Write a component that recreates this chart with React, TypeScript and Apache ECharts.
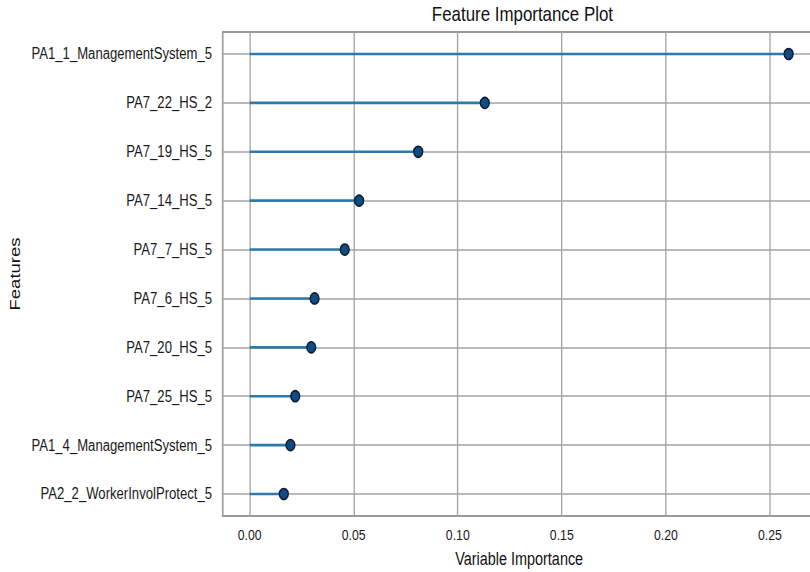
import React, { useEffect, useRef } from "react";
import * as echarts from "echarts";

// Features, top to bottom, with their importance scores
const features = [
  "PA1_1_ManagementSystem_5",
  "PA7_22_HS_2",
  "PA7_19_HS_5",
  "PA7_14_HS_5",
  "PA7_7_HS_5",
  "PA7_6_HS_5",
  "PA7_20_HS_5",
  "PA7_25_HS_5",
  "PA1_4_ManagementSystem_5",
  "PA2_2_WorkerInvolProtect_5",
];
const importance = [0.259, 0.113, 0.081, 0.0526, 0.0457, 0.0312, 0.0296, 0.0219, 0.0196, 0.0164];
const xTicks = [0, 0.05, 0.1, 0.15, 0.2, 0.25];

const FONT = "'Liberation Sans', Arial, Helvetica, sans-serif";
const SQUEEZE = 0.82; // the figure is drawn horizontally condensed
const VIEW_W = 810;
const VIEW_H = 572;
// the plot frame runs past the right edge of the view, so the canvas is wider
const CHART_W = 1010;

const GRID_LEFT = 271.6;
const GRID_TOP = 32;
const GRID_W = 723;
const GRID_H = 484;

const STEM = "#2f7aa8";
const DOT = "#0f4c81";
const DOT_EDGE = "#0b1c30";
const GRIDLINE = "#a3a3a3";
const FRAME = "#9a9a9a";

export default function App() {
  const ref = useRef<HTMLDivElement>(null);

  useEffect(() => {
    if (!ref.current) return;
    const chart = echarts.init(ref.current, undefined, { renderer: "svg" });

    const maxVal = Math.max(...importance);
    const pad = 0.05 * maxVal;
    const points = importance.map((v, i) => [v, i]);

    chart.setOption({
      animation: false,
      backgroundColor: "#ffffff",
      textStyle: { fontFamily: FONT },
      grid: {
        left: GRID_LEFT,
        top: GRID_TOP,
        width: GRID_W,
        height: GRID_H,
        show: true,
        borderColor: FRAME,
        borderWidth: 2,
        backgroundColor: "#ffffff",
      },
      graphic: [
        {
          type: "text",
          x: GRID_LEFT + GRID_W / 2 + 4,
          y: 3.5,
          style: {
            text: "Feature Importance Plot",
            fontFamily: FONT,
            fontSize: 20.6,
            fill: "#111111",
            textAlign: "center",
            textVerticalAlign: "top",
          },
        },
      ],
      xAxis: {
        type: "value",
        min: -pad,
        max: maxVal + pad,
        axisLine: { show: false },
        axisTick: { show: false },
        splitLine: { show: false },
        axisLabel: {
          customValues: xTicks,
          formatter: (v: number) => v.toFixed(2),
          fontFamily: FONT,
          fontSize: 15,
          color: "#1a1a1a",
          margin: 12,
        },
        name: "Variable Importance",
        nameLocation: "middle",
        nameGap: 33,
        nameTextStyle: { fontFamily: FONT, fontSize: 17.6, color: "#111111" },
      },
      yAxis: {
        type: "value",
        inverse: true,
        min: -0.45,
        max: features.length - 1 + 0.45,
        axisLine: { show: false },
        axisTick: { show: false },
        splitLine: { show: false },
        axisLabel: {
          customValues: features.map((_, i) => i),
          formatter: (v: number) => features[Math.round(v)] ?? "",
          fontFamily: FONT,
          fontSize: 16,
          color: "#1a1a1a",
          margin: 13,
        },
        name: "Features",
        nameLocation: "middle",
        nameGap: 231,
        nameTextStyle: { fontFamily: FONT, fontSize: 18.5, color: "#111111" },
      },
      series: [
        {
          // grid lines at each tick and each feature row
          type: "scatter",
          data: [],
          silent: true,
          z: 1,
          markLine: {
            z: 1,
            silent: true,
            symbol: ["none", "none"],
            label: { show: false },
            lineStyle: { color: GRIDLINE, width: 1.6, type: "solid" },
            emphasis: { disabled: true },
            data: [
              ...xTicks.map((v) => ({ xAxis: v })),
              ...features.map((_, i) => ({ yAxis: i })),
            ],
          },
        },
        {
          // lollipop stems from zero to the score
          type: "custom",
          z: 6,
          silent: true,
          data: points,
          encode: { x: 0, y: 1 },
          renderItem: (_params: any, api: any) => {
            const row = api.value(1);
            const start = api.coord([0, row]);
            const end = api.coord([api.value(0), row]);
            return {
              type: "line",
              shape: { x1: start[0], y1: start[1], x2: end[0], y2: end[1] },
              style: { stroke: STEM, lineWidth: 2.6 },
            };
          },
        },
        {
          type: "scatter",
          z: 7,
          data: points,
          symbol: "circle",
          symbolSize: 11,
          itemStyle: { color: DOT, borderColor: DOT_EDGE, borderWidth: 1.6, opacity: 1 },
        },
      ],
    });

    return () => chart.dispose();
  }, []);

  return (
    <div
      style={{
        position: "absolute",
        left: 0,
        top: 0,
        width: VIEW_W,
        height: VIEW_H,
        overflow: "hidden",
        background: "#ffffff",
      }}
    >
      <div
        ref={ref}
        style={{
          width: CHART_W,
          height: VIEW_H,
          transform: `scaleX(${SQUEEZE})`,
          transformOrigin: "0 0",
        }}
      />
    </div>
  );
}
